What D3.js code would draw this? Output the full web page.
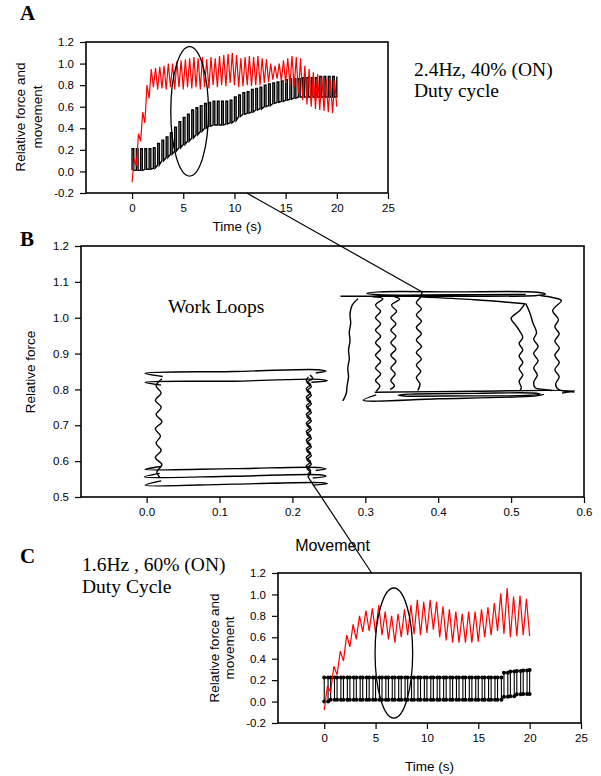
<!DOCTYPE html>
<html><head><meta charset="utf-8">
<script src="https://cdn.jsdelivr.net/npm/d3@7"></script>
<style>body{margin:0;background:#fff}svg{display:block}</style>
</head><body>
<svg id="fig" width="601" height="776"></svg>
<script>
// ---------------- DATA ----------------
// Panel A : 2.4 Hz, 40% duty cycle
const aFreq = 2.4, aDuty = 0.4, aEnd = 20;
// relative force sampled every half stimulation period
const aForce = [-0.10,0.12,0.05,0.35,0.28,0.55,0.45,0.80,0.68,0.95,
 0.78,0.96,0.76,0.97,0.77,0.98,0.76,1.00,0.78,1.00,
 0.76,1.02,0.78,1.03,0.76,1.04,0.78,1.05,0.77,1.06,
 0.78,1.05,0.76,1.06,0.78,1.04,0.77,1.06,0.80,1.05,
 0.78,1.07,0.80,1.08,0.79,1.09,0.82,1.10,0.80,1.08,
 0.78,1.05,0.79,1.06,0.80,1.07,0.79,1.06,0.80,1.07,
 0.80,1.05,0.82,1.04,0.83,1.00,0.85,0.98,0.86,1.00,
 0.84,1.03,0.82,1.05,0.80,1.07,0.78,1.06,0.72,1.05,
 0.66,0.98,0.62,0.95,0.60,0.92,0.58,0.90,0.57,0.88,
 0.56,0.86,0.55,0.85,0.54,0.84,0.60];
// movement per cycle (high / low)
const aMoveHigh = [0.21,0.21,0.21,0.21,0.21,0.22,0.26,0.29,0.32,0.36,
 0.41,0.46,0.50,0.53,0.57,0.59,0.61,0.63,0.64,0.65,
 0.65,0.65,0.65,0.66,0.69,0.71,0.73,0.74,0.76,0.77,
 0.78,0.80,0.81,0.82,0.83,0.84,0.85,0.86,0.86,0.86,
 0.87,0.87,0.87,0.87,0.88,0.88,0.88,0.88,0.88];
const aMoveLow = [0.01,0.01,0.01,0.02,0.02,0.03,0.06,0.10,0.13,0.16,
 0.19,0.22,0.25,0.28,0.31,0.34,0.37,0.40,0.42,0.43,
 0.43,0.43,0.44,0.45,0.47,0.51,0.53,0.54,0.55,0.57,
 0.58,0.60,0.61,0.63,0.64,0.65,0.66,0.67,0.68,0.69,
 0.69,0.69,0.69,0.69,0.69,0.69,0.69,0.69,0.69];
const aEllipse = {t:5.62, v:0.557, rt:1.84, rv:0.60};

// Panel C : 1.6 Hz, 60% duty cycle
const cFreq = 1.6, cDuty = 0.6, cEnd = 20;
const cForce = [-0.08,0.14,0.09,0.33,0.25,0.47,0.38,0.62,0.51,0.72,
 0.58,0.80,0.65,0.85,0.66,0.87,0.64,0.90,0.62,0.84,
 0.58,0.80,0.55,0.82,0.60,0.86,0.62,0.90,0.63,0.95,
 0.62,0.93,0.64,0.95,0.67,0.93,0.60,0.89,0.57,0.86,
 0.55,0.84,0.55,0.82,0.55,0.84,0.55,0.84,0.56,0.86,
 0.60,0.88,0.62,0.92,0.66,1.01,0.63,1.06,0.60,0.98,
 0.61,0.99,0.62,0.96,0.61];
const cMoveHigh = [0.225,0.225,0.225,0.225,0.225,0.225,0.225,0.225,0.225,0.225,
 0.225,0.225,0.225,0.225,0.225,0.225,0.225,0.225,0.225,0.225,
 0.225,0.225,0.225,0.225,0.225,0.225,0.225,0.225,0.27,0.28,
 0.285,0.29,0.295];
const cMoveLow = [0.0,0.018,0.018,0.018,0.018,0.018,0.018,0.018,0.018,0.018,
 0.018,0.018,0.018,0.018,0.018,0.018,0.018,0.018,0.018,0.018,
 0.018,0.018,0.018,0.018,0.018,0.018,0.018,0.018,0.045,0.05,
 0.068,0.07,0.07];
const cEllipse = {t:6.78, v:0.453, rt:1.83, rv:0.607};

// Axis ticks
const timeTicks = [0,5,10,15,20,25];
const forceTicks = [-0.2,0.0,0.2,0.4,0.6,0.8,1.0,1.2];
const loopMoveTicks = [0.0,0.1,0.2,0.3,0.4,0.5,0.6];
const loopForceTicks = [0.5,0.6,0.7,0.8,0.9,1.0,1.1,1.2];

// Panel B : work loops, [movement, relative force]
const loopSlowTop1 = [[0.022,0.836],[-0.002,0.845],[0.12,0.850],[0.236,0.855],[0.246,0.851],[0.232,0.846]];
const loopSlowTop2 = [[0.020,0.812],[-0.002,0.820],[0.12,0.823],[0.238,0.828],[0.248,0.824],[0.226,0.820]];
const loopSlowBot1 = [[0.020,0.585],[-0.002,0.577],[0.12,0.579],[0.238,0.582],[0.246,0.578],[0.232,0.574]];
const loopSlowBot2 = [[0.018,0.566],[-0.003,0.556],[0.12,0.558],[0.238,0.562],[0.246,0.558],[0.228,0.553]];
const loopSlowBot3 = [[0.020,0.545],[-0.002,0.533],[0.12,0.536],[0.240,0.540],[0.248,0.537],[0.228,0.533]];
const loopSlowLeft = [[0.021,0.83],[0.013,0.81],[0.020,0.79],[0.012,0.77],[0.020,0.75],[0.013,0.73],[0.021,0.71],[0.012,0.69],[0.019,0.67],[0.013,0.65],[0.020,0.63],[0.012,0.61],[0.021,0.59],[0.014,0.57],[0.018,0.555]];
const loopSlowRight1 = [[0.224,0.840],[0.228,0.830],[0.220,0.820],[0.226,0.808],[0.220,0.796],[0.226,0.784],[0.220,0.772],[0.226,0.760],[0.220,0.748],[0.226,0.736],[0.220,0.724],[0.226,0.712],[0.220,0.700],[0.226,0.688],[0.220,0.676],[0.226,0.664],[0.220,0.652],[0.226,0.640],[0.220,0.628],[0.226,0.616],[0.220,0.604],[0.226,0.592],[0.220,0.580],[0.225,0.568],[0.221,0.556]];
const loopSlowRight2 = [[0.222,0.835],[0.219,0.824],[0.225,0.814],[0.219,0.802],[0.225,0.790],[0.219,0.778],[0.225,0.766],[0.219,0.754],[0.225,0.742],[0.219,0.730],[0.225,0.718],[0.219,0.706],[0.225,0.694],[0.219,0.682],[0.225,0.670],[0.219,0.658],[0.225,0.646],[0.219,0.634],[0.225,0.622],[0.219,0.610],[0.225,0.598],[0.219,0.586],[0.225,0.574],[0.220,0.562]];

const loopFastTop1 = [[0.266,1.060],[0.40,1.060],[0.535,1.062],[0.547,1.066],[0.536,1.071],[0.42,1.072],[0.32,1.072],[0.302,1.068],[0.318,1.064],[0.42,1.064],[0.52,1.065]];
const loopFastTop2 = [[0.375,1.058],[0.45,1.050],[0.519,1.039]];
const loopFastV1 = [[0.290,1.053],[0.282,1.035],[0.279,1.010],[0.280,0.985],[0.278,0.960],[0.279,0.935],[0.277,0.910],[0.278,0.885],[0.276,0.860],[0.277,0.835],[0.275,0.810],[0.274,0.790],[0.271,0.775],[0.269,0.768]];
const loopFastV2 = [[0.310,1.058],[0.324,1.053],[0.314,1.035],[0.321,1.018],[0.314,1.000],[0.321,0.983],[0.314,0.965],[0.321,0.948],[0.314,0.930],[0.321,0.913],[0.314,0.895],[0.321,0.878],[0.314,0.860],[0.321,0.843],[0.314,0.825],[0.320,0.810],[0.315,0.795]];
const loopFastV3 = [[0.340,1.058],[0.347,1.052],[0.336,1.035],[0.343,1.018],[0.335,1.000],[0.342,0.983],[0.335,0.965],[0.342,0.948],[0.335,0.930],[0.342,0.913],[0.335,0.895],[0.342,0.878],[0.335,0.860],[0.341,0.843],[0.335,0.825],[0.340,0.810],[0.334,0.800]];
const loopFastV4 = [[0.378,1.075],[0.376,1.058],[0.370,1.042],[0.377,1.025],[0.370,1.008],[0.377,0.990],[0.370,0.973],[0.377,0.955],[0.370,0.938],[0.377,0.920],[0.370,0.903],[0.377,0.885],[0.370,0.868],[0.376,0.850],[0.370,0.833],[0.375,0.815],[0.372,0.797]];
const loopFastV5 = [[0.519,1.039],[0.512,1.020],[0.500,0.998],[0.506,0.980],[0.512,0.962],[0.516,0.945],[0.511,0.928],[0.516,0.910],[0.511,0.893],[0.516,0.875],[0.511,0.858],[0.516,0.840],[0.511,0.823],[0.514,0.805],[0.512,0.796]];
const loopFastV6 = [[0.520,1.040],[0.526,1.012],[0.530,0.985],[0.535,0.958],[0.531,0.940],[0.537,0.920],[0.531,0.900],[0.537,0.880],[0.531,0.860],[0.536,0.840],[0.531,0.820],[0.533,0.805],[0.545,0.800],[0.556,0.797]];
const loopFastV7 = [[0.540,1.062],[0.560,1.055],[0.569,1.048],[0.557,1.020],[0.565,0.995],[0.560,0.975],[0.566,0.955],[0.560,0.935],[0.566,0.915],[0.560,0.895],[0.566,0.875],[0.560,0.855],[0.566,0.835],[0.561,0.815],[0.565,0.800],[0.587,0.793]];
const loopFastBot1 = [[0.315,0.785],[0.297,0.770],[0.40,0.774],[0.535,0.782],[0.545,0.786]];
const loopFastBot2 = [[0.313,0.792],[0.45,0.795],[0.587,0.796],[0.570,0.790]];
const loopFastBot3 = [[0.360,0.781],[0.345,0.784],[0.360,0.787],[0.45,0.789],[0.530,0.790],[0.540,0.787],[0.520,0.783],[0.45,0.782],[0.360,0.781]];

// connector lines between panels
const connectAB = {from:[11.2,-0.2], to:[0.3774,1.0725]};   // A(time,force) -> B(movement,force)
const connectBC = {from:[0.2214,0.556], to:[4.62,1.2]};     // B -> C(time,force)

// ---------------- DRAWING ----------------
const svg = d3.select("#fig");
const SANS = "'Liberation Sans', Arial, sans-serif";
const SERIF = "'Liberation Serif', 'Times New Roman', serif";

const xA = d3.scaleLinear([-4.5,25],[86,388]);
const yA = d3.scaleLinear([-0.2,1.2],[193,42]);
const xB = d3.scaleLinear([-0.09,0.6],[81,584]);
const yB = d3.scaleLinear([0.5,1.2],[497,246]);
const xC = d3.scaleLinear([-4.5,25],[278,581]);
const yC = d3.scaleLinear([-0.2,1.2],[723,573]);

function axes(x, y, xt, yt, xf, yf){
  const g = svg.append("g");
  const gx = g.append("g").attr("transform",`translate(0,${y.range()[0]})`)
    .call(d3.axisBottom(x).tickValues(xt).tickFormat(xf).tickSize(6).tickPadding(5));
  const gy = g.append("g").attr("transform",`translate(${x.range()[0]},0)`)
    .call(d3.axisLeft(y).tickValues(yt).tickFormat(yf).tickSize(6).tickPadding(6));
  [gx,gy].forEach(a=>{
    a.select(".domain").remove();
    a.selectAll("line").attr("stroke","#000").attr("stroke-width",1.2);
    a.selectAll("text").attr("font-family",SANS).attr("font-size",11.5).attr("fill","#000");
  });
  g.append("rect").attr("x",x.range()[0]).attr("y",y.range()[1])
    .attr("width",x.range()[1]-x.range()[0]).attr("height",y.range()[0]-y.range()[1])
    .attr("fill","none").attr("stroke","#000").attr("stroke-width",1.6);
}
const f1 = d=>d.toFixed(1);
const f0 = d=>String(d);

function sampled(values, freq){ // half-period sampling
  const h = 1/(2*freq);
  return values.map((v,i)=>[i*h, v]);
}
function steps(hi, lo, freq, duty, tEnd){
  const pts = [];
  for(let k=0;k<hi.length;k++){
    const t0 = k/freq;
    if(t0 >= tEnd - 1e-9){ pts.push([tEnd, lo[k]],[tEnd, hi[k]]); break; }
    const t1 = Math.min(t0 + duty/freq, tEnd);
    pts.push([t0, lo[k]],[t0, hi[k]],[t1, hi[k]],[t1, lo[k]]);
  }
  return pts;
}

// ---- Panel A ----
axes(xA, yA, timeTicks, forceTicks, f0, f1);
const lineA = d3.line().x(d=>xA(d[0])).y(d=>yA(d[1]));
svg.append("path").attr("d", lineA(steps(aMoveHigh, aMoveLow, aFreq, aDuty, aEnd)))
  .attr("fill","none").attr("stroke","#000").attr("stroke-width",1.4);
svg.append("path").attr("d", lineA(sampled(aForce, aFreq)))
  .attr("fill","none").attr("stroke","#ff0000").attr("stroke-width",1.2);
svg.append("ellipse").attr("cx",xA(aEllipse.t)).attr("cy",yA(aEllipse.v))
  .attr("rx",xA(aEllipse.t+aEllipse.rt)-xA(aEllipse.t)).attr("ry",yA(aEllipse.v)-yA(aEllipse.v+aEllipse.rv))
  .attr("fill","none").attr("stroke","#000").attr("stroke-width",1.3);

// ---- Panel B ----
axes(xB, yB, loopMoveTicks, loopForceTicks, f1, f1);
const lineB = d3.line().x(d=>xB(d[0])).y(d=>yB(d[1])).curve(d3.curveCatmullRom.alpha(0.5));
const loopPaths = [loopSlowTop1,loopSlowTop2,loopSlowBot1,loopSlowBot2,loopSlowBot3,
  loopSlowLeft,loopSlowRight1,loopSlowRight2,
  loopFastTop1,loopFastTop2,loopFastV1,loopFastV2,loopFastV3,loopFastV4,loopFastV5,loopFastV6,loopFastV7,
  loopFastBot1,loopFastBot2,loopFastBot3];
svg.append("g").selectAll("path").data(loopPaths).join("path")
  .attr("d", d=>lineB(d)).attr("fill","none").attr("stroke","#000").attr("stroke-width",1.4);

// ---- Panel C ----
axes(xC, yC, timeTicks, forceTicks, f0, f1);
const lineC = d3.line().x(d=>xC(d[0])).y(d=>yC(d[1]));
const cSteps = steps(cMoveHigh, cMoveLow, cFreq, cDuty, cEnd);
svg.append("path").attr("d", lineC(cSteps))
  .attr("fill","none").attr("stroke","#000").attr("stroke-width",1.1);
svg.append("g").selectAll("circle").data(cSteps).join("circle")
  .attr("cx",d=>xC(d[0])).attr("cy",d=>yC(d[1])).attr("r",2).attr("fill","#000");
svg.append("path").attr("d", lineC(sampled(cForce, cFreq)))
  .attr("fill","none").attr("stroke","#ff0000").attr("stroke-width",1.2);
svg.append("ellipse").attr("cx",xC(cEllipse.t)).attr("cy",yC(cEllipse.v))
  .attr("rx",xC(cEllipse.t+cEllipse.rt)-xC(cEllipse.t)).attr("ry",yC(cEllipse.v)-yC(cEllipse.v+cEllipse.rv))
  .attr("fill","none").attr("stroke","#000").attr("stroke-width",1.3);

// ---- connectors ----
svg.append("line").attr("x1",xA(connectAB.from[0])).attr("y1",yA(connectAB.from[1]))
  .attr("x2",xB(connectAB.to[0])).attr("y2",yB(connectAB.to[1])).attr("stroke","#000").attr("stroke-width",1.2);
svg.append("line").attr("x1",xB(connectBC.from[0])).attr("y1",yB(connectBC.from[1]))
  .attr("x2",xC(connectBC.to[0])).attr("y2",yC(connectBC.to[1])).attr("stroke","#000").attr("stroke-width",1.2);

// ---- texts ----
function txt(s,x,y,opt){
  const t = svg.append("text").attr("x",x).attr("y",y).text(s)
    .attr("font-family",opt.ff||SANS).attr("font-size",opt.fs||13.5).attr("fill","#000");
  if(opt.anchor) t.attr("text-anchor",opt.anchor);
  if(opt.bold) t.attr("font-weight","bold");
  return t;
}
function vtxt(s,x,y,fs){
  svg.append("text").attr("transform",`translate(${x},${y}) rotate(-90)`).attr("text-anchor","middle")
    .attr("font-family",SANS).attr("font-size",fs).attr("fill","#000").text(s);
}
txt("A",20,20,{ff:SERIF,fs:21,bold:true});
txt("B",20,246,{ff:SERIF,fs:21,bold:true});
txt("C",20,563,{ff:SERIF,fs:21,bold:true});
txt("Time (s)",(xA.range()[0]+xA.range()[1])/2,231,{fs:13.5,anchor:"middle"});
txt("Movement",(xB.range()[0]+xB.range()[1])/2,551,{fs:16,anchor:"middle"});
txt("Time (s)",(xC.range()[0]+xC.range()[1])/2,771,{fs:13.5,anchor:"middle"});
vtxt("Relative force and",25,117,13.5);
vtxt("movement",42,117,13.5);
vtxt("Relative force",35,372,13.5);
vtxt("Relative force and",218.5,648,13.5);
vtxt("movement",233.5,648,13.5);
txt("2.4Hz, 40% (ON)",414,76,{ff:SERIF,fs:19.5});
txt("Duty cycle",414,97,{ff:SERIF,fs:19.5});
txt("Work Loops",168,313,{ff:SERIF,fs:19.5});
txt("1.6Hz , 60% (ON)",82,570.5,{ff:SERIF,fs:19.5});
txt("Duty Cycle",82,592.5,{ff:SERIF,fs:19.5});
</script>
</body></html>
